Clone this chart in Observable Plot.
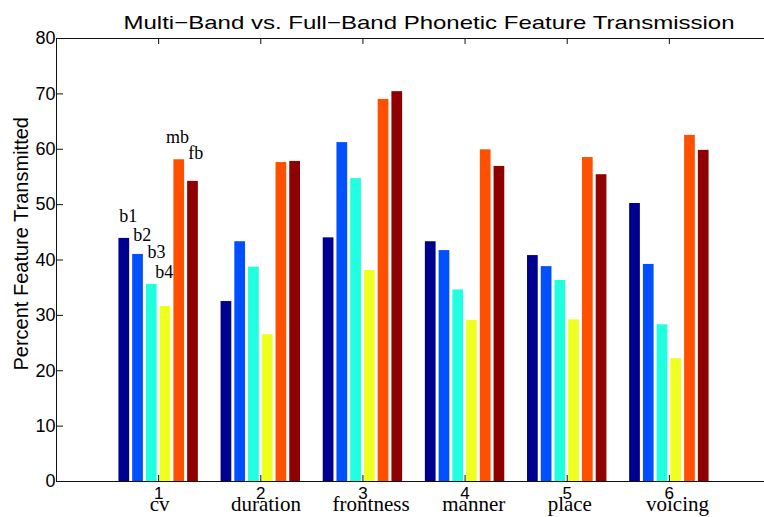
<!DOCTYPE html>
<html>
<head>
<meta charset="utf-8">
<script src="https://cdn.jsdelivr.net/npm/d3@7"></script>
<script src="https://cdn.jsdelivr.net/npm/@observablehq/plot@0.6"></script>
<style>
  html, body { margin: 0; padding: 0; background: #fff; overflow: hidden; }
  #wrap { width: 764px; height: 517px; overflow: hidden; }
  #wrap svg { max-width: none !important; display: block; }
</style>
</head>
<body>
<div id="wrap"></div>
<script>
const titleText = "Multi\u2212Band vs. Full\u2212Band Phonetic Feature Transmission";
const yLabelText = "Percent Feature Transmitted";
const categories = ["cv", "duration", "frontness", "manner", "place", "voicing"];
const categoryX = [1.01, 2.05, 3.08, 4.085, 5.025, 6.08];
const series = ["b1", "b2", "b3", "b4", "mb", "fb"];
const seriesColors = ["#00008F", "#0050FF", "#20FFE0", "#EFFF20", "#FF5000", "#8F0000"];
const b1 = [43.9, 32.5, 44.0, 43.3, 40.8, 50.2];
const b2 = [41.0, 43.3, 61.2, 41.7, 38.8, 39.2];
const b3 = [35.6, 38.7, 54.7, 34.6, 36.3, 28.3];
const b4 = [31.6, 26.5, 38.1, 29.1, 29.2, 22.2];
const mb = [58.1, 57.6, 69.0, 59.9, 58.5, 62.5];
const fb = [54.2, 57.8, 70.4, 56.9, 55.4, 59.8];
const xTicks = [1, 2, 3, 4, 5, 6];
const yTicks = [0, 10, 20, 30, 40, 50, 60, 70, 80];
// annotation labels (left x, baseline y) in data units
const annLabels = ["b1", "b2", "b3", "b4", "mb", "fb"];
const annX = [0.614, 0.751, 0.892, 0.967, 1.071, 1.290];
const annY = [46.9, 43.5, 40.4, 36.7, 61.1, 58.2];

const values = [b1, b2, b3, b4, mb, fb];
const groupStep = 0.1345, barW = 0.105;
const rows = [];
categories.forEach((c, i) => {
  series.forEach((s, j) => {
    const center = xTicks[i] + (j - 2.5) * groupStep;
    rows.push({category: c, series: s, value: values[j][i], x1: center - barW / 2, x2: center + barW / 2});
  });
});
const anns = annLabels.map((t, i) => ({t, x: annX[i], y: annY[i]}));
const cats = categories.map((c, i) => ({c, x: categoryX[i]}));

const W = 780, H = 517, mL = 56, mR = 9, mT = 38, mB = 36;
const plotW = W - mL - mR, plotH = H - mT - mB;
const sans = "'Liberation Sans', Arial, Helvetica, sans-serif";
const serif = "'Liberation Serif', 'Times New Roman', serif";

const chart = Plot.plot({
  width: W, height: H,
  marginLeft: mL, marginRight: mR, marginTop: mT, marginBottom: mB,
  style: {fontFamily: sans, background: "#fff", color: "#000", maxWidth: "none"},
  x: {domain: [0, 7], axis: null},
  y: {domain: [0, 80], axis: null},
  color: {domain: series, range: seriesColors},
  marks: [
    Plot.rectY(rows, {x1: "x1", x2: "x2", y1: 0, y2: "value", fill: "series"}),
    Plot.frame({stroke: "#111", strokeWidth: 1}),
    Plot.tickX(xTicks, {x: d => d, insetBottom: plotH - 6, stroke: "#111"}),
    Plot.tickX(xTicks, {x: d => d, insetTop: plotH - 6, stroke: "#111"}),
    Plot.tickY(yTicks, {y: d => d, insetRight: plotW - 7, stroke: "#111"}),
    Plot.tickY(yTicks, {y: d => d, insetLeft: plotW - 7, stroke: "#111"}),
    Plot.axisY({ticks: yTicks, tickSize: 0, tickPadding: 1, fontSize: 18, label: null, tickFormat: d => d}),
    Plot.axisX({ticks: xTicks, tickSize: 0, tickPadding: 5, fontSize: 17, label: null, tickFormat: d => d}),
    Plot.text(cats, {x: "x", text: "c", frameAnchor: "bottom", textAnchor: "middle", lineAnchor: "bottom", dy: 29, fontFamily: serif, fontSize: 21, fill: "#000"}),
    Plot.text(anns, {x: "x", y: "y", text: "t", textAnchor: "start", lineAnchor: "bottom", fontFamily: serif, fontSize: 18, fill: "#000"}),
    Plot.text([yLabelText], {text: d => d, frameAnchor: "left", textAnchor: "middle", rotate: -90, lineAnchor: "bottom", dx: -28.7, dy: -16.2, fontSize: 20, fill: "#000"}),
    Plot.text([titleText], {text: d => d, frameAnchor: "top", textAnchor: "middle", lineAnchor: "bottom", dx: 15, dy: -10, fontSize: 19, fill: "#000"})
  ]
});

const svg = d3.select(chart);
svg.style("max-width", "none");
svg.selectAll("text").filter(function () { return this.textContent === titleText; })
  .attr("textLength", 611).attr("lengthAdjust", "spacingAndGlyphs");
document.getElementById("wrap").appendChild(chart);
</script>
</body>
</html>
